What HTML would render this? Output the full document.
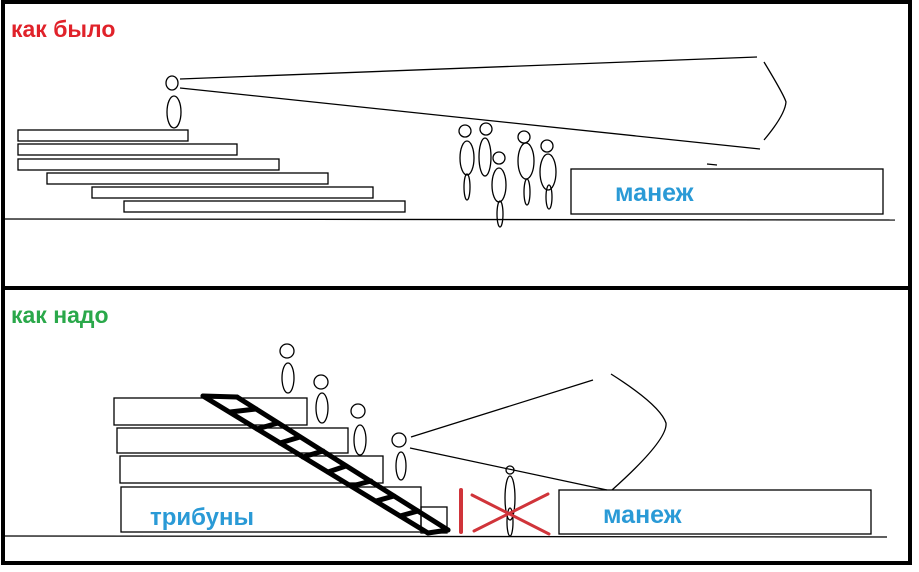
<!DOCTYPE html>
<html><head><meta charset="utf-8"><style>body{margin:0;background:#fff}svg{display:block}</style></head>
<body>
<svg width="919" height="572" xmlns="http://www.w3.org/2000/svg" font-family="Liberation Sans, DejaVu Sans, sans-serif" font-weight="bold">
<rect x="0" y="0" width="919" height="572" fill="#fff"/>
<g fill="none" stroke="#000" stroke-width="1.3">
<ellipse cx="172" cy="83" rx="6" ry="7"/>
<ellipse cx="174" cy="112" rx="7" ry="16"/>
<rect x="18" y="130" width="170" height="11"/>
<rect x="18" y="144" width="219" height="11"/>
<rect x="18" y="159" width="261" height="11"/>
<rect x="47" y="173" width="281" height="11"/>
<rect x="92" y="187" width="281" height="11"/>
<rect x="124" y="201" width="281" height="11"/>
<line x1="5" y1="219" x2="895" y2="220"/>
<line x1="180" y1="79" x2="757" y2="57"/>
<line x1="180" y1="88" x2="760" y2="149"/>
<path d="M764 62 Q784 95 786 102 Q785 115 764 140"/>
<line x1="707" y1="164" x2="717" y2="165"/>
<rect x="571" y="169" width="312" height="45"/>
<circle cx="465" cy="131" r="6"/><ellipse cx="467" cy="158" rx="7" ry="17"/><ellipse cx="467" cy="187" rx="3" ry="13"/>
<circle cx="486" cy="129" r="6"/><ellipse cx="485" cy="157" rx="6" ry="19"/>
<circle cx="499" cy="158" r="6"/><ellipse cx="499" cy="185" rx="7" ry="17"/><ellipse cx="500" cy="214" rx="3" ry="13"/>
<circle cx="524" cy="137" r="6"/><ellipse cx="526" cy="161" rx="8" ry="18"/><ellipse cx="527" cy="192" rx="3" ry="13"/>
<circle cx="547" cy="146" r="6"/><ellipse cx="548" cy="172" rx="8" ry="18"/><ellipse cx="549" cy="197" rx="3" ry="12"/>
<rect x="114" y="398" width="193" height="27"/>
<rect x="117" y="428" width="231" height="25"/>
<rect x="120" y="456" width="263" height="27"/>
<rect x="121" y="487" width="300" height="45"/>
<rect x="421" y="507" width="26" height="26"/>
<line x1="5" y1="536" x2="887" y2="537"/>
<circle cx="287" cy="351" r="7"/><ellipse cx="288" cy="378" rx="6" ry="15"/>
<circle cx="321" cy="382" r="7"/><ellipse cx="322" cy="408" rx="6" ry="15"/>
<circle cx="358" cy="411" r="7"/><ellipse cx="360" cy="440" rx="6" ry="15"/>
<circle cx="399" cy="440" r="7"/><ellipse cx="401" cy="466" rx="5" ry="14"/>
<line x1="411" y1="437" x2="593" y2="380"/>
<line x1="410" y1="448" x2="607" y2="490"/>
<path d="M611 374 Q660 405 666 423 Q668 440 612 490"/>
<circle cx="510" cy="470" r="4"/><ellipse cx="510" cy="498" rx="5" ry="22"/><ellipse cx="510" cy="522" rx="3" ry="14"/>
<rect x="559" y="490" width="312" height="44"/>
</g>
<g stroke="#000" stroke-width="5" fill="none" stroke-linecap="round">
<line x1="203" y1="396" x2="428" y2="533"/>
<line x1="203" y1="396" x2="237" y2="397"/>
<line x1="237" y1="397" x2="448" y2="530"/>
<line x1="428" y1="533" x2="448" y2="530"/>
<line x1="230" y1="412" x2="256" y2="409"/>
<line x1="257" y1="429" x2="278" y2="423"/>
<line x1="280" y1="443" x2="300" y2="437"/>
<line x1="303" y1="457" x2="323" y2="451"/>
<line x1="328" y1="472" x2="346" y2="466"/>
<line x1="352" y1="486" x2="371" y2="481"/>
<line x1="376" y1="501" x2="394" y2="496"/>
<line x1="400" y1="516" x2="418" y2="511"/>
</g>
<g stroke="#d0343a" stroke-linecap="round">
<line x1="461" y1="490" x2="461" y2="532" stroke-width="4"/>
<line x1="472" y1="495" x2="549" y2="534" stroke-width="3"/>
<line x1="474" y1="531" x2="548" y2="494" stroke-width="3"/>
</g>
<g fill="none" stroke="#000">
<rect x="3" y="2" width="907" height="561" stroke-width="4"/>
<line x1="3" y1="288" x2="910" y2="288" stroke-width="4"/>
</g>
<text x="11" y="37" font-size="23" fill="#e0222a">как было</text>
<text x="11" y="323" font-size="23" fill="#2aa84a">как надо</text>
<text x="615" y="201" font-size="25" fill="#2a9ad6">манеж</text>
<text x="603" y="523" font-size="25" fill="#2a9ad6">манеж</text>
<text x="150" y="525" font-size="24" fill="#2a9ad6">трибуны</text>
</svg>
</body></html>
